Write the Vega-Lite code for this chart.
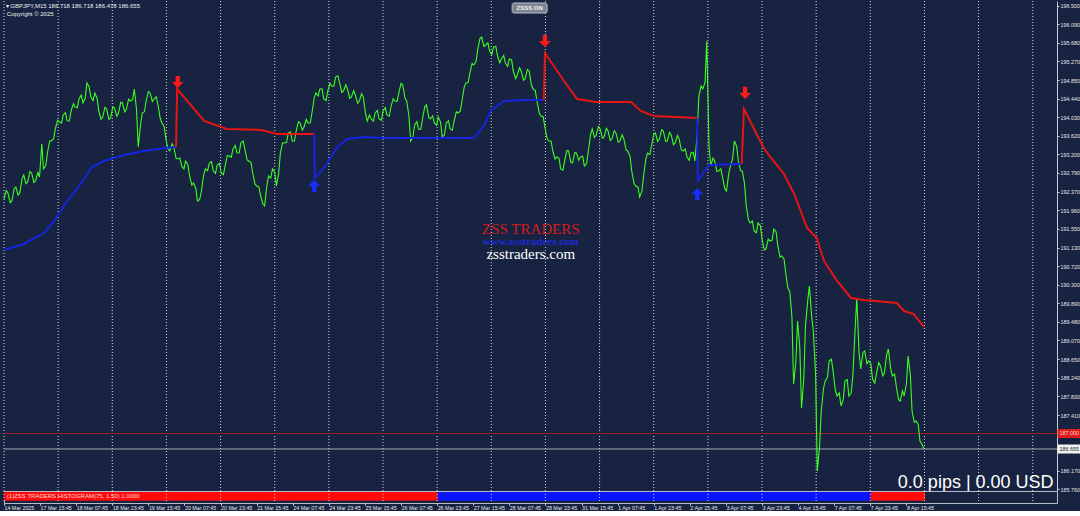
{
  "$schema": "https://vega.github.io/schema/vega-lite/v6.json",
  "background": "#172340",
  "padding": 0,
  "spacing": 0,
  "bounds": "flush",
  "config": {"view": {"stroke": null}, "font": "Liberation Sans", "concat": {"spacing": 0}},
  "resolve": {"scale": {"color": "independent", "shape": "independent"}},
  "datasets": {
    "grid": [{"i":0},{"i":96},{"i":192},{"i":288},{"i":384},{"i":480},{"i":576},{"i":672},{"i":768},{"i":864},{"i":960},{"i":1056},{"i":1152},{"i":1248},{"i":1344},{"i":1440},{"i":1536},{"i":1632},{"i":1728},{"i":1824}],
    "price": [
      {"i":0,"price":192.211},{"i":4,"price":192.40},{"i":7,"price":192.344},{"i":11,"price":192.13},{"i":14,"price":192.167},{"i":18,"price":192.44},{"i":21,"price":192.478},{"i":25,"price":192.30},{"i":28,"price":192.344},{"i":32,"price":192.66},{"i":35,"price":192.744},{"i":39,"price":192.55},{"i":42,"price":192.589},{"i":46,"price":192.82},{"i":49,"price":192.789},{"i":53,"price":192.58},{"i":56,"price":192.611},{"i":60,"price":192.80},{"i":63,"price":192.7},{"i":67,"price":193.433},{"i":70,"price":192.878},{"i":74,"price":192.95},{"i":77,"price":193.233},{"i":81,"price":193.50},{"i":84,"price":193.5},{"i":88,"price":193.55},{"i":91,"price":193.767},{"i":95,"price":193.96},{"i":98,"price":193.922},{"i":102,"price":193.90},{"i":105,"price":194.078},{"i":109,"price":194.13},{"i":112,"price":193.944},{"i":116,"price":193.95},{"i":119,"price":194.167},{"i":123,"price":194.33},{"i":126,"price":194.255},{"i":130,"price":194.24},{"i":133,"price":194.433},{"i":137,"price":194.52},{"i":140,"price":194.344},{"i":144,"price":194.45},{"i":147,"price":194.789},{"i":151,"price":194.70},{"i":154,"price":194.478},{"i":158,"price":194.40},{"i":161,"price":194.567},{"i":165,"price":194.45},{"i":168,"price":194.167},{"i":172,"price":193.98},{"i":175,"price":194.033},{"i":179,"price":194.25},{"i":182,"price":194.211},{"i":186,"price":193.98},{"i":189,"price":194.011},{"i":193,"price":194.26},{"i":196,"price":194.233},{"i":200,"price":194.05},{"i":203,"price":194.122},{"i":207,"price":194.36},{"i":210,"price":194.344},{"i":214,"price":194.15},{"i":217,"price":194.211},{"i":221,"price":194.43},{"i":224,"price":194.389},{"i":228,"price":194.42},{"i":231,"price":194.655},{"i":235,"price":194.20},{"i":238,"price":193.367},{"i":242,"price":193.85},{"i":245,"price":194.122},{"i":249,"price":194.15},{"i":252,"price":194.389},{"i":256,"price":194.60},{"i":259,"price":194.567},{"i":263,"price":194.38},{"i":266,"price":194.433},{"i":270,"price":194.48},{"i":273,"price":194.3},{"i":277,"price":194.00},{"i":280,"price":193.9},{"i":284,"price":193.82},{"i":287,"price":193.544},{"i":291,"price":193.32},{"i":294,"price":193.278},{"i":298,"price":193.44},{"i":301,"price":193.367},{"i":305,"price":193.12},{"i":308,"price":193.1},{"i":312,"price":193.12},{"i":315,"price":192.944},{"i":319,"price":192.88},{"i":322,"price":193.055},{"i":326,"price":192.98},{"i":329,"price":192.722},{"i":333,"price":192.52},{"i":336,"price":192.567},{"i":340,"price":192.45},{"i":343,"price":192.167},{"i":347,"price":192.20},{"i":350,"price":192.389},{"i":354,"price":192.75},{"i":357,"price":192.878},{"i":361,"price":192.84},{"i":364,"price":193.011},{"i":368,"price":193.04},{"i":371,"price":192.833},{"i":375,"price":192.78},{"i":378,"price":192.967},{"i":382,"price":193.00},{"i":385,"price":192.789},{"i":389,"price":192.75},{"i":392,"price":192.944},{"i":396,"price":193.18},{"i":399,"price":193.167},{"i":403,"price":193.14},{"i":406,"price":193.322},{"i":410,"price":193.40},{"i":413,"price":193.233},{"i":417,"price":193.24},{"i":420,"price":193.455},{"i":424,"price":193.50},{"i":427,"price":193.322},{"i":431,"price":193.08},{"i":434,"price":193.055},{"i":438,"price":193.02},{"i":441,"price":192.789},{"i":445,"price":192.54},{"i":448,"price":192.5},{"i":452,"price":192.48},{"i":455,"price":192.278},{"i":459,"price":192.10},{"i":462,"price":192.055},{"i":466,"price":192.50},{"i":469,"price":192.722},{"i":473,"price":192.68},{"i":476,"price":192.878},{"i":480,"price":192.80},{"i":483,"price":192.5},{"i":487,"price":192.78},{"i":490,"price":193.233},{"i":494,"price":193.46},{"i":497,"price":193.455},{"i":501,"price":193.47},{"i":504,"price":193.678},{"i":508,"price":193.70},{"i":511,"price":193.5},{"i":515,"price":193.50},{"i":518,"price":193.722},{"i":522,"price":193.93},{"i":525,"price":193.9},{"i":529,"price":193.74},{"i":532,"price":193.811},{"i":536,"price":193.98},{"i":539,"price":193.9},{"i":543,"price":193.90},{"i":546,"price":194.122},{"i":550,"price":194.46},{"i":553,"price":194.567},{"i":557,"price":194.50},{"i":560,"price":194.655},{"i":564,"price":194.66},{"i":567,"price":194.433},{"i":571,"price":194.40},{"i":574,"price":194.611},{"i":578,"price":194.78},{"i":581,"price":194.722},{"i":585,"price":194.72},{"i":588,"price":194.922},{"i":592,"price":194.95},{"i":595,"price":194.789},{"i":599,"price":194.58},{"i":602,"price":194.611},{"i":606,"price":194.75},{"i":609,"price":194.655},{"i":613,"price":194.45},{"i":616,"price":194.478},{"i":620,"price":194.62},{"i":623,"price":194.522},{"i":627,"price":194.34},{"i":630,"price":194.389},{"i":634,"price":194.55},{"i":637,"price":194.478},{"i":641,"price":194.10},{"i":644,"price":193.944},{"i":648,"price":194.08},{"i":651,"price":193.989},{"i":655,"price":193.94},{"i":658,"price":194.122},{"i":662,"price":194.18},{"i":665,"price":193.989},{"i":669,"price":193.96},{"i":672,"price":194.167},{"i":676,"price":194.24},{"i":679,"price":194.078},{"i":683,"price":194.05},{"i":686,"price":194.255},{"i":690,"price":194.44},{"i":693,"price":194.389},{"i":697,"price":194.38},{"i":700,"price":194.567},{"i":704,"price":194.78},{"i":707,"price":194.744},{"i":711,"price":194.45},{"i":714,"price":194.389},{"i":718,"price":194.05},{"i":721,"price":193.5},{"i":725,"price":193.58},{"i":728,"price":193.855},{"i":732,"price":193.93},{"i":735,"price":193.767},{"i":739,"price":193.76},{"i":742,"price":193.989},{"i":746,"price":194.26},{"i":749,"price":194.3},{"i":753,"price":194.03},{"i":756,"price":193.989},{"i":760,"price":194.06},{"i":763,"price":193.9},{"i":767,"price":193.85},{"i":770,"price":194.033},{"i":774,"price":193.92},{"i":777,"price":193.589},{"i":781,"price":193.64},{"i":784,"price":193.9},{"i":788,"price":193.95},{"i":791,"price":193.767},{"i":795,"price":193.74},{"i":798,"price":193.944},{"i":802,"price":194.15},{"i":805,"price":194.122},{"i":809,"price":194.16},{"i":812,"price":194.389},{"i":816,"price":194.70},{"i":819,"price":194.789},{"i":823,"price":194.80},{"i":826,"price":195.011},{"i":830,"price":195.22},{"i":833,"price":195.189},{"i":837,"price":195.27},{"i":840,"price":195.544},{"i":844,"price":195.78},{"i":847,"price":195.811},{"i":851,"price":195.60},{"i":854,"price":195.633},{"i":858,"price":195.68},{"i":861,"price":195.5},{"i":865,"price":195.42},{"i":868,"price":195.589},{"i":872,"price":195.60},{"i":875,"price":195.389},{"i":879,"price":195.24},{"i":882,"price":195.322},{"i":886,"price":195.40},{"i":889,"price":195.233},{"i":893,"price":195.16},{"i":896,"price":195.322},{"i":900,"price":195.30},{"i":903,"price":195.055},{"i":907,"price":194.89},{"i":910,"price":194.967},{"i":914,"price":195.13},{"i":917,"price":195.055},{"i":921,"price":194.85},{"i":924,"price":194.878},{"i":928,"price":195.09},{"i":931,"price":195.055},{"i":935,"price":194.75},{"i":938,"price":194.655},{"i":942,"price":194.62},{"i":945,"price":194.389},{"i":949,"price":194.12},{"i":952,"price":194.055},{"i":956,"price":194.04},{"i":959,"price":193.811},{"i":963,"price":193.55},{"i":966,"price":193.5},{"i":970,"price":193.50},{"i":973,"price":193.278},{"i":977,"price":193.10},{"i":980,"price":193.144},{"i":984,"price":193.12},{"i":987,"price":192.878},{"i":991,"price":192.85},{"i":994,"price":193.055},{"i":998,"price":193.29},{"i":1001,"price":193.278},{"i":1005,"price":193.03},{"i":1008,"price":193.011},{"i":1012,"price":193.24},{"i":1015,"price":193.233},{"i":1019,"price":193.07},{"i":1022,"price":193.144},{"i":1026,"price":193.16},{"i":1029,"price":192.944},{"i":1033,"price":193.00},{"i":1036,"price":193.278},{"i":1040,"price":193.64},{"i":1043,"price":193.767},{"i":1047,"price":193.58},{"i":1050,"price":193.633},{"i":1054,"price":193.82},{"i":1057,"price":193.767},{"i":1061,"price":193.56},{"i":1064,"price":193.589},{"i":1068,"price":193.78},{"i":1071,"price":193.722},{"i":1075,"price":193.51},{"i":1078,"price":193.544},{"i":1082,"price":193.73},{"i":1085,"price":193.678},{"i":1089,"price":193.47},{"i":1092,"price":193.5},{"i":1096,"price":193.64},{"i":1099,"price":193.544},{"i":1103,"price":193.30},{"i":1106,"price":193.278},{"i":1110,"price":193.16},{"i":1113,"price":192.833},{"i":1117,"price":192.56},{"i":1120,"price":192.5},{"i":1124,"price":192.48},{"i":1127,"price":192.255},{"i":1131,"price":192.38},{"i":1134,"price":192.722},{"i":1138,"price":193.10},{"i":1141,"price":193.233},{"i":1145,"price":193.20},{"i":1148,"price":193.389},{"i":1152,"price":193.65},{"i":1155,"price":193.678},{"i":1159,"price":193.49},{"i":1162,"price":193.544},{"i":1166,"price":193.75},{"i":1169,"price":193.722},{"i":1173,"price":193.49},{"i":1176,"price":193.5},{"i":1180,"price":193.69},{"i":1183,"price":193.633},{"i":1187,"price":193.42},{"i":1190,"price":193.455},{"i":1194,"price":193.62},{"i":1197,"price":193.544},{"i":1201,"price":193.30},{"i":1204,"price":193.278},{"i":1208,"price":193.32},{"i":1211,"price":193.144},{"i":1215,"price":193.07},{"i":1218,"price":193.233},{"i":1222,"price":193.25},{"i":1225,"price":193.055},{"i":1229,"price":193.65},{"i":1232,"price":194.5},{"i":1236,"price":194.72},{"i":1239,"price":194.655},{"i":1243,"price":194.80},{"i":1246,"price":195.722},{"i":1250,"price":193.40},{"i":1253,"price":192.944},{"i":1257,"price":193.12},{"i":1260,"price":193.055},{"i":1264,"price":192.82},{"i":1267,"price":192.833},{"i":1271,"price":192.88},{"i":1274,"price":192.7},{"i":1278,"price":192.44},{"i":1281,"price":192.389},{"i":1285,"price":192.78},{"i":1288,"price":192.944},{"i":1292,"price":193.12},{"i":1295,"price":193.5},{"i":1299,"price":193.38},{"i":1302,"price":193.055},{"i":1306,"price":192.84},{"i":1309,"price":192.833},{"i":1313,"price":192.55},{"i":1316,"price":192.055},{"i":1320,"price":191.75},{"i":1323,"price":191.678},{"i":1327,"price":191.72},{"i":1330,"price":191.5},{"i":1334,"price":191.46},{"i":1337,"price":191.678},{"i":1341,"price":191.62},{"i":1344,"price":191.322},{"i":1348,"price":191.08},{"i":1351,"price":191.1},{"i":1355,"price":191.32},{"i":1358,"price":191.278},{"i":1362,"price":191.30},{"i":1365,"price":191.544},{"i":1369,"price":191.48},{"i":1372,"price":191.167},{"i":1376,"price":190.92},{"i":1379,"price":190.944},{"i":1383,"price":190.88},{"i":1386,"price":190.567},{"i":1390,"price":190.22},{"i":1393,"price":190.167},{"i":1397,"price":189.6},{"i":1400,"price":188.1},{"i":1404,"price":188.6},{"i":1407,"price":189.5},{"i":1411,"price":188.9},{"i":1414,"price":187.567},{"i":1418,"price":188.2},{"i":1421,"price":189.389},{"i":1425,"price":189.95},{"i":1428,"price":190.278},{"i":1432,"price":189.6},{"i":1435,"price":189.278},{"i":1439,"price":188.3},{"i":1442,"price":186.167},{"i":1446,"price":186.7},{"i":1449,"price":187.5},{"i":1453,"price":188.0},{"i":1456,"price":188.167},{"i":1460,"price":188.25},{"i":1463,"price":188.611},{"i":1467,"price":188.65},{"i":1470,"price":188.389},{"i":1474,"price":187.95},{"i":1477,"price":187.833},{"i":1481,"price":187.9},{"i":1484,"price":187.611},{"i":1488,"price":187.75},{"i":1491,"price":188.167},{"i":1495,"price":188.2},{"i":1498,"price":187.833},{"i":1502,"price":187.9},{"i":1505,"price":188.278},{"i":1509,"price":189.3},{"i":1512,"price":190.011},{"i":1516,"price":188.8},{"i":1519,"price":188.433},{"i":1523,"price":188.8},{"i":1526,"price":188.833},{"i":1530,"price":188.55},{"i":1533,"price":188.611},{"i":1537,"price":188.55},{"i":1540,"price":188.211},{"i":1544,"price":188.12},{"i":1547,"price":188.344},{"i":1551,"price":188.58},{"i":1554,"price":188.5},{"i":1558,"price":188.28},{"i":1561,"price":188.344},{"i":1565,"price":188.75},{"i":1568,"price":188.878},{"i":1572,"price":188.45},{"i":1575,"price":188.278},{"i":1579,"price":188.32},{"i":1582,"price":188.055},{"i":1586,"price":187.75},{"i":1589,"price":187.722},{"i":1593,"price":187.95},{"i":1596,"price":187.833},{"i":1600,"price":188.1},{"i":1603,"price":188.722},{"i":1607,"price":188.3},{"i":1610,"price":187.5},{"i":1614,"price":187.25},{"i":1617,"price":187.278},{"i":1621,"price":187.2},{"i":1624,"price":186.833},{"i":1628,"price":186.75},{"i":1631,"price":186.655}
    ],
    "stop": [
      {"o":1,"seg":1,"dir":"up","i":0,"price":191.078},{"o":2,"seg":1,"dir":"up","i":35,"price":191.211},{"o":3,"seg":1,"dir":"up","i":71,"price":191.455},{"o":4,"seg":1,"dir":"up","i":89,"price":191.722},{"o":5,"seg":1,"dir":"up","i":106,"price":192.055},{"o":6,"seg":1,"dir":"up","i":133,"price":192.5},{"o":7,"seg":1,"dir":"up","i":156,"price":192.922},{"o":8,"seg":1,"dir":"up","i":177,"price":193.055},{"o":9,"seg":1,"dir":"up","i":213,"price":193.189},{"o":10,"seg":1,"dir":"up","i":248,"price":193.278},{"o":11,"seg":1,"dir":"up","i":284,"price":193.344},{"o":12,"seg":1,"dir":"up","i":305,"price":193.367},
      {"o":13,"seg":2,"dir":"down","i":305,"price":193.367},{"o":14,"seg":2,"dir":"down","i":307,"price":194.655},{"o":15,"seg":2,"dir":"down","i":355,"price":193.944},{"o":16,"seg":2,"dir":"down","i":395,"price":193.767},{"o":17,"seg":2,"dir":"down","i":456,"price":193.744},{"o":18,"seg":2,"dir":"down","i":484,"price":193.655},{"o":19,"seg":2,"dir":"down","i":550,"price":193.655},
      {"o":20,"seg":3,"dir":"up","i":550,"price":193.655},{"o":21,"seg":3,"dir":"up","i":551,"price":192.678},{"o":22,"seg":3,"dir":"up","i":567,"price":192.9},{"o":23,"seg":3,"dir":"up","i":590,"price":193.344},{"o":24,"seg":3,"dir":"up","i":608,"price":193.544},{"o":25,"seg":3,"dir":"up","i":638,"price":193.589},{"o":26,"seg":3,"dir":"up","i":674,"price":193.567},{"o":27,"seg":3,"dir":"up","i":833,"price":193.567},{"o":28,"seg":3,"dir":"up","i":851,"price":193.833},{"o":29,"seg":3,"dir":"up","i":863,"price":194.167},{"o":30,"seg":3,"dir":"up","i":886,"price":194.389},{"o":31,"seg":3,"dir":"up","i":922,"price":194.411},{"o":32,"seg":3,"dir":"up","i":957,"price":194.411},
      {"o":33,"seg":4,"dir":"down","i":957,"price":194.411},{"o":34,"seg":4,"dir":"down","i":959,"price":195.455},{"o":35,"seg":4,"dir":"down","i":993,"price":194.833},{"o":36,"seg":4,"dir":"down","i":1016,"price":194.433},{"o":37,"seg":4,"dir":"down","i":1051,"price":194.367},{"o":38,"seg":4,"dir":"down","i":1112,"price":194.367},{"o":39,"seg":4,"dir":"down","i":1129,"price":194.167},{"o":40,"seg":4,"dir":"down","i":1152,"price":194.055},{"o":41,"seg":4,"dir":"down","i":1229,"price":194.011},
      {"o":42,"seg":5,"dir":"up","i":1229,"price":194.011},{"o":43,"seg":5,"dir":"up","i":1230,"price":192.611},{"o":44,"seg":5,"dir":"up","i":1250,"price":192.967},{"o":45,"seg":5,"dir":"up","i":1308,"price":192.989},
      {"o":46,"seg":6,"dir":"down","i":1308,"price":192.989},{"o":47,"seg":6,"dir":"down","i":1312,"price":194.211},{"o":48,"seg":6,"dir":"down","i":1347,"price":193.344},{"o":49,"seg":6,"dir":"down","i":1360,"price":193.122},{"o":50,"seg":6,"dir":"down","i":1383,"price":192.767},{"o":51,"seg":6,"dir":"down","i":1401,"price":192.322},{"o":52,"seg":6,"dir":"down","i":1424,"price":191.567},{"o":53,"seg":6,"dir":"down","i":1441,"price":191.344},{"o":54,"seg":6,"dir":"down","i":1454,"price":190.833},{"o":55,"seg":6,"dir":"down","i":1477,"price":190.389},{"o":56,"seg":6,"dir":"down","i":1502,"price":190.011},{"o":57,"seg":6,"dir":"down","i":1525,"price":189.967},{"o":58,"seg":6,"dir":"down","i":1583,"price":189.9},{"o":59,"seg":6,"dir":"down","i":1596,"price":189.722},{"o":60,"seg":6,"dir":"down","i":1613,"price":189.655},{"o":61,"seg":6,"dir":"down","i":1631,"price":189.367}
    ],
    "signals": [
      {"i":308,"price":194.811,"dir":"down"},{"i":550,"price":192.5,"dir":"up"},{"i":959,"price":195.722,"dir":"down"},{"i":1229,"price":192.322,"dir":"up"},{"i":1314,"price":194.567,"dir":"down"}
    ],
    "levels": [{"price":187.0,"kind":"alert"},{"price":186.655,"kind":"bid"}],
    "boxes": [
      {"i":1868,"i2":1912,"price":187.1,"price2":186.9,"mid":187.0,"kind":"alert","text":"187.000"},
      {"i":1868,"i2":1912,"price":186.755,"price2":186.555,"mid":186.655,"kind":"bid","text":"186.655"}
    ],
    "hist": [
      {"start":0,"end":769,"lo":0,"hi":1,"trend":"bear"},
      {"start":769,"end":1537,"lo":0,"hi":1,"trend":"bull"},
      {"start":1537,"end":1633,"lo":0,"hi":1,"trend":"bear"}
    ]
  },
  "vconcat": [
    {
      "width": 1053,
      "height": 490,
      "resolve": {"scale": {"color": "independent"}},
      "layer": [
        {
          "data": {"name": "grid"},
          "mark": {"type": "rule", "strokeDash": [1, 2], "color": "#d4d8e0", "strokeWidth": 1},
          "encoding": {
            "x": {"field": "i", "type": "quantitative", "scale": {"domain": [0, 1867], "nice": false, "zero": false}, "axis": null}
          }
        },
        {
          "data": {"name": "levels"},
          "mark": {"type": "rule", "strokeWidth": 1},
          "encoding": {
            "y": {"field": "price", "type": "quantitative", "scale": {"domain": [185.722, 196.611], "nice": false, "zero": false},
              "axis": {"orient": "right", "title": null, "values": [196.5,196.09,195.68,195.27,194.85,194.44,194.03,193.62,193.2,192.79,192.37,191.96,191.55,191.13,190.72,190.3,189.89,189.48,189.07,188.65,188.24,187.83,187.41,186.17,185.76], "tickCount": 60, "format": ".3f", "labelFont": "Liberation Sans", "labelFontSize": 5.4, "labelColor": "#e6e8ee", "tickSize": 2, "tickColor": "#d0d4dc", "domainColor": "#c8ccd4", "labelPadding": 1, "grid": false, "labelFlush": false, "labelOverlap": false}},
            "color": {"field": "kind", "type": "nominal", "scale": {"domain": ["alert", "bid"], "range": ["#9a1f2a", "#a6adba"]}, "legend": null}
          }
        },
        {
          "data": {"name": "price"},
          "mark": {"type": "line", "color": "#3dff1f", "strokeWidth": 1.1},
          "encoding": {
            "x": {"field": "i", "type": "quantitative", "scale": {"domain": [0, 1867], "nice": false, "zero": false}, "axis": null},
            "y": {"field": "price", "type": "quantitative", "scale": {"domain": [185.722, 196.611], "nice": false, "zero": false}}
          }
        },
        {
          "data": {"name": "stop"},
          "mark": {"type": "line", "strokeWidth": 2},
          "encoding": {
            "x": {"field": "i", "type": "quantitative", "scale": {"domain": [0, 1867], "nice": false, "zero": false}, "axis": null},
            "y": {"field": "price", "type": "quantitative", "scale": {"domain": [185.722, 196.611], "nice": false, "zero": false}},
            "detail": {"field": "seg", "type": "nominal"},
            "order": {"field": "o", "type": "quantitative"},
            "color": {"field": "dir", "type": "nominal", "scale": {"domain": ["down", "up"], "range": ["#e81414", "#1424e0"]}, "legend": null}
          }
        },
        {
          "data": {"name": "signals"},
          "mark": {"type": "point", "filled": true, "opacity": 1, "size": 150},
          "encoding": {
            "x": {"field": "i", "type": "quantitative", "scale": {"domain": [0, 1867], "nice": false, "zero": false}, "axis": null},
            "y": {"field": "price", "type": "quantitative", "scale": {"domain": [185.722, 196.611], "nice": false, "zero": false}},
            "shape": {"field": "dir", "type": "nominal", "scale": {"domain": ["down", "up"], "range": ["M-0.35,-1L0.35,-1L0.35,0L0.95,0L0,1L-0.95,0L-0.35,0Z", "M-0.35,1L0.35,1L0.35,0L0.95,0L0,-1L-0.95,0L-0.35,0Z"]}, "legend": null},
            "color": {"field": "dir", "type": "nominal", "scale": {"domain": ["down", "up"], "range": ["#ff1a1a", "#1a2cff"]}, "legend": null}
          }
        },
        {
          "data": {"name": "boxes"},
          "mark": {"type": "rect"},
          "encoding": {
            "x": {"field": "i", "type": "quantitative", "axis": null},
            "x2": {"field": "i2"},
            "y": {"field": "price", "type": "quantitative"},
            "y2": {"field": "price2"},
            "color": {"field": "kind", "type": "nominal", "scale": {"domain": ["alert", "bid"], "range": ["#e01b1b", "#f2f2f2"]}, "legend": null}
          }
        },
        {
          "data": {"name": "boxes"},
          "mark": {"type": "text", "font": "Liberation Sans", "fontSize": 5.4, "align": "left", "dx": 2, "baseline": "middle"},
          "encoding": {
            "x": {"field": "i", "type": "quantitative", "axis": null},
            "y": {"field": "mid", "type": "quantitative"},
            "text": {"field": "text"},
            "color": {"field": "kind", "type": "nominal", "scale": {"domain": ["alert", "bid"], "range": ["#ffd6d6", "#1a1a1a"]}, "legend": null}
          }
        },
        {
          "data": {"values": [{"i": 3, "price": 196.5, "text": "▾ GBPJPY,M15  186.718 186.718 186.478 186.655"}]},
          "mark": {"type": "text", "font": "Liberation Sans", "fontSize": 6, "align": "left", "baseline": "middle", "color": "#eef0f4"},
          "encoding": {"x": {"field": "i", "type": "quantitative", "axis": null}, "y": {"field": "price", "type": "quantitative"}, "text": {"field": "text"}}
        },
        {
          "data": {"values": [{"i": 5, "price": 196.322, "text": "Copyright © 2025"}]},
          "mark": {"type": "text", "font": "Liberation Sans", "fontSize": 6, "align": "left", "baseline": "middle", "color": "#eef0f4"},
          "encoding": {"x": {"field": "i", "type": "quantitative", "axis": null}, "y": {"field": "price", "type": "quantitative"}, "text": {"field": "text"}}
        },
        {
          "data": {"values": [{"i": 901, "i2": 963, "price": 196.567, "price2": 196.344}]},
          "mark": {"type": "rect", "fill": "#7c8492", "stroke": "#b8bec8", "strokeWidth": 1, "cornerRadius": 2},
          "encoding": {"x": {"field": "i", "type": "quantitative", "axis": null}, "x2": {"field": "i2"}, "y": {"field": "price", "type": "quantitative"}, "y2": {"field": "price2"}}
        },
        {
          "data": {"values": [{"i": 932, "price": 196.455, "text": "ZSSS ON"}]},
          "mark": {"type": "text", "font": "Liberation Sans", "fontSize": 6, "fontWeight": "bold", "align": "center", "baseline": "middle", "color": "#f4f4f4"},
          "encoding": {"x": {"field": "i", "type": "quantitative", "axis": null}, "y": {"field": "price", "type": "quantitative"}, "text": {"field": "text"}}
        },
        {
          "data": {"values": [{"i": 934, "price": 191.25, "text": "www.zsstraders.com"}]},
          "mark": {"type": "text", "font": "Liberation Serif", "fontSize": 11, "fontWeight": "bold", "align": "center", "baseline": "middle", "color": "#1a2ad8"},
          "encoding": {"x": {"field": "i", "type": "quantitative", "axis": null}, "y": {"field": "price", "type": "quantitative"}, "text": {"field": "text"}}
        },
        {
          "data": {"values": [{"i": 934, "price": 191.55, "text": "ZSS TRADERS"}]},
          "mark": {"type": "text", "font": "Liberation Serif", "fontSize": 15, "align": "center", "baseline": "middle", "color": "#d41c1c"},
          "encoding": {"x": {"field": "i", "type": "quantitative", "axis": null}, "y": {"field": "price", "type": "quantitative"}, "text": {"field": "text"}}
        },
        {
          "data": {"values": [{"i": 934, "price": 190.99, "text": "zsstraders.com"}]},
          "mark": {"type": "text", "font": "Liberation Serif", "fontSize": 15, "align": "center", "baseline": "middle", "color": "#ffffff"},
          "encoding": {"x": {"field": "i", "type": "quantitative", "axis": null}, "y": {"field": "price", "type": "quantitative"}, "text": {"field": "text"}}
        },
        {
          "data": {"values": [{"i": 1861, "price": 185.789, "text": "0.0 pips | 0.00 USD"}]},
          "mark": {"type": "text", "font": "Liberation Sans", "fontSize": 18, "align": "right", "baseline": "alphabetic", "color": "#ffffff"},
          "encoding": {"x": {"field": "i", "type": "quantitative", "axis": null}, "y": {"field": "price", "type": "quantitative"}, "text": {"field": "text"}}
        }
      ]
    },
    {
      "width": 1053,
      "height": 12,
      "view": {"stroke": "#b8bcc6", "strokeWidth": 1},
      "layer": [
        {
          "data": {"name": "hist"},
          "mark": {"type": "rect"},
          "encoding": {
            "x": {"field": "start", "type": "quantitative", "scale": {"domain": [0, 1867], "nice": false, "zero": false},
              "axis": {"title": null, "orient": "bottom", "values": [0,64,128,192,256,320,384,448,512,576,640,704,768,832,896,960,1024,1088,1152,1216,1280,1344,1408,1472,1536,1600], "tickCount": 60,
                "labelExpr": "['14 Mar 2025','17 Mar 15:45','18 Mar 07:45','18 Mar 23:45','19 Mar 15:45','20 Mar 07:45','20 Mar 23:45','21 Mar 15:45','24 Mar 07:45','24 Mar 23:45','25 Mar 15:45','26 Mar 07:45','26 Mar 23:45','27 Mar 15:45','28 Mar 07:45','28 Mar 23:45','31 Mar 15:45','1 Apr 07:45','1 Apr 23:45','2 Apr 15:45','3 Apr 07:45','3 Apr 23:45','4 Apr 15:45','7 Apr 07:45','7 Apr 23:45','8 Apr 15:45'][round(datum.value/64)]",
                "labelAlign": "left", "labelBaseline": "top", "labelPadding": 0, "labelFont": "Liberation Sans", "labelFontSize": 5.3, "labelColor": "#e6e8ee", "tickSize": 2, "tickColor": "#d0d4dc", "domain": false, "grid": false, "labelFlush": false, "labelOverlap": false}},
            "x2": {"field": "end"},
            "y": {"field": "lo", "type": "quantitative", "scale": {"domain": [-0.25, 1.1], "nice": false, "zero": false}, "axis": null},
            "y2": {"field": "hi"},
            "color": {"field": "trend", "type": "nominal", "scale": {"domain": ["bear", "bull"], "range": ["#ff0a0a", "#0a14ff"]}, "legend": null}
          }
        },
        {
          "data": {"name": "grid"},
          "mark": {"type": "rule", "strokeDash": [1, 2], "color": "#d4d8e0", "strokeWidth": 1},
          "encoding": {
            "x": {"field": "i", "type": "quantitative"}
          }
        },
        {
          "data": {"values": [{"i": 5, "v": 0.5, "text": "(1)ZSS TRADERS HISTOGRAM(75, 1.50) 1.0000"}]},
          "mark": {"type": "text", "font": "Liberation Sans", "fontSize": 6, "align": "left", "baseline": "middle", "color": "#f6dede"},
          "encoding": {"x": {"field": "i", "type": "quantitative"}, "y": {"field": "v", "type": "quantitative", "axis": null}, "text": {"field": "text"}}
        }
      ]
    }
  ]
}
